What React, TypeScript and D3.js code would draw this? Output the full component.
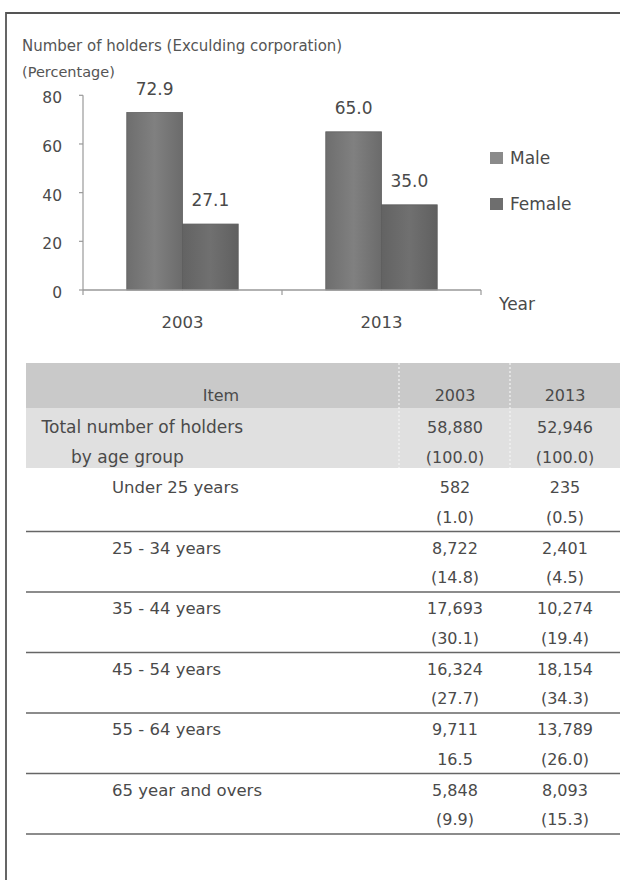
import React from "react";
import * as d3 from "d3";

const years = ["2003", "2013"];
const series = ["Male", "Female"];
const maleValues = [72.9, 65.0];
const femaleValues = [27.1, 35.0];
const yTicks = [0, 20, 40, 60, 80];

const tableHeader = ["Item", "2003", "2013"];
const totalLabel = ["Total number of holders", "by age group"];
const total2003 = ["58,880", "(100.0)"];
const total2013 = ["52,946", "(100.0)"];
const ageGroups = [
  "Under 25 years",
  "25 - 34 years",
  "35 - 44 years",
  "45 - 54 years",
  "55 - 64 years",
  "65 year and overs",
];
const count2003 = ["582", "8,722", "17,693", "16,324", "9,711", "5,848"];
const pct2003 = ["(1.0)", "(14.8)", "(30.1)", "(27.7)", "16.5", "(9.9)"];
const count2013 = ["235", "2,401", "10,274", "18,154", "13,789", "8,093"];
const pct2013 = ["(0.5)", "(4.5)", "(19.4)", "(34.3)", "(26.0)", "(15.3)"];

const FONT = "'DejaVu Sans', Verdana, sans-serif";
const TEXT = "#4a4a4a";

export default function App() {
  const W = 620;
  const H = 880;
  const x0 = d3
    .scaleBand<string>()
    .domain(years)
    .range([83, 481])
    .paddingInner(0.44)
    .paddingOuter(0.22);
  const x1 = d3.scaleBand<string>().domain(series).range([0, x0.bandwidth()]);
  const y = d3.scaleLinear().domain([0, 80]).range([290, 95.3]);
  const values: Record<string, number[]> = { Male: maleValues, Female: femaleValues };
  const fills: Record<string, string> = { Male: "url(#gMale)", Female: "url(#gFemale)" };
  const legendFill: Record<string, string> = { Male: "#8a8a8a", Female: "#6e6e6e" };

  const rowY = d3.scaleLinear().domain([0, 1]).range([471, 531.5]);
  const col2003 = 455;
  const col2013 = 565;

  return (
    <svg
      width={W}
      height={H}
      style={{ position: "absolute", left: 0, top: 0, background: "#fff" }}
      fontFamily={FONT}
    >
      <defs>
        <linearGradient id="gMale" x1="0" x2="1" y1="0" y2="0">
          <stop offset="0" stopColor="#6e6e6e" />
          <stop offset="0.5" stopColor="#808080" />
          <stop offset="1" stopColor="#6b6b6b" />
        </linearGradient>
        <linearGradient id="gFemale" x1="0" x2="1" y1="0" y2="0">
          <stop offset="0" stopColor="#636363" />
          <stop offset="0.5" stopColor="#707070" />
          <stop offset="1" stopColor="#606060" />
        </linearGradient>
      </defs>
      <rect x={0} y={0} width={W} height={H} fill="#fff" />
      {/* frame */}
      <path d={`M6,${H} V13 H${W}`} fill="none" stroke="#555" strokeWidth={1.8} />

      {/* titles */}
      <text x={22} y={51} fontSize={15} fill="#555">
        Number of holders (Exculding corporation)
      </text>
      <text x={22} y={77} fontSize={14.5} fill="#555">
        (Percentage)
      </text>

      {/* y axis */}
      <line x1={83} x2={83} y1={y(80)} y2={y(0)} stroke="#999" strokeWidth={1.2} />
      {yTicks.map((t) => (
        <g key={t}>
          <line x1={79} x2={83} y1={y(t)} y2={y(t)} stroke="#999" strokeWidth={1.2} />
          <text
            x={62}
            y={y(t) + 8}
            textAnchor="end"
            fontSize={15.5}
            fill={TEXT}
          >
            {t}
          </text>
        </g>
      ))}

      {/* bars */}
      {years.map((yr, i) => (
        <g key={yr} transform={`translate(${x0(yr)},0)`}>
          {series.map((s) => {
            const v = values[s][i];
            return (
              <g key={s}>
                <rect
                  x={x1(s)}
                  y={y(v)}
                  width={x1.bandwidth()}
                  height={y(0) - y(v)}
                  fill={fills[s]}
                  stroke="#5e5e5e"
                  strokeWidth={0.8}
                />
                <text
                  x={(x1(s) as number) + x1.bandwidth() / 2}
                  y={y(v) - 18}
                  textAnchor="middle"
                  fontSize={17}
                  fill={TEXT}
                >
                  {v.toFixed(1)}
                </text>
              </g>
            );
          })}
        </g>
      ))}

      {/* x axis */}
      <line x1={83} x2={481} y1={y(0)} y2={y(0)} stroke="#999" strokeWidth={1.4} />
      {[83, (x0("2003") as number) + x0.bandwidth() + (x0.step() - x0.bandwidth()) / 2, 481].map(
        (xx, i) => (
          <line key={i} x1={xx} x2={xx} y1={y(0)} y2={y(0) + 5} stroke="#999" strokeWidth={1.2} />
        )
      )}
      {years.map((yr) => (
        <text
          key={yr}
          x={(x0(yr) as number) + x0.bandwidth() / 2}
          y={328}
          textAnchor="middle"
          fontSize={16.5}
          fill={TEXT}
        >
          {yr}
        </text>
      ))}
      <text x={499} y={310} fontSize={17} fill={TEXT}>
        Year
      </text>

      {/* legend */}
      {series.map((s, i) => (
        <g key={s} transform={`translate(490,${152 + i * 46})`}>
          <rect x={0} y={0} width={13} height={12} fill={legendFill[s]} />
          <text x={20} y={12} fontSize={17} fill={TEXT}>
            {s}
          </text>
        </g>
      ))}

      {/* table */}
      <rect x={26} y={363} width={W - 26} height={45} fill="#c9c9c9" />
      <rect x={26} y={408} width={W - 26} height={60} fill="#e0e0e0" />
      {[399, 510].map((xx) => (
        <line
          key={xx}
          x1={xx}
          x2={xx}
          y1={363}
          y2={468}
          stroke="#f4f4f4"
          strokeWidth={1.2}
          strokeDasharray="2,2"
        />
      ))}
      <text x={221} y={401} textAnchor="middle" fontSize={16} fill={TEXT}>
        {tableHeader[0]}
      </text>
      <text x={col2003} y={401} textAnchor="middle" fontSize={16} fill={TEXT}>
        {tableHeader[1]}
      </text>
      <text x={col2013} y={401} textAnchor="middle" fontSize={16} fill={TEXT}>
        {tableHeader[2]}
      </text>

      {totalLabel.map((t, k) => (
        <text key={t} x={k === 0 ? 41.5 : 71} y={433 + k * 30} fontSize={17} fill={TEXT}>
          {t}
        </text>
      ))}
      {total2003.map((t, k) => (
        <text key={"a" + k} x={col2003} y={433 + k * 30} textAnchor="middle" fontSize={16} fill={TEXT}>
          {t}
        </text>
      ))}
      {total2013.map((t, k) => (
        <text key={"b" + k} x={col2013} y={433 + k * 30} textAnchor="middle" fontSize={16} fill={TEXT}>
          {t}
        </text>
      ))}

      {ageGroups.map((g, i) => {
        const top = rowY(i);
        const bottom = rowY(i + 1);
        return (
          <g key={g}>
            <text x={112} y={top + 22} fontSize={16.5} fill={TEXT}>
              {g}
            </text>
            <text x={col2003} y={top + 22} textAnchor="middle" fontSize={16} fill={TEXT}>
              {count2003[i]}
            </text>
            <text x={col2003} y={top + 51.5} textAnchor="middle" fontSize={16} fill={TEXT}>
              {pct2003[i]}
            </text>
            <text x={col2013} y={top + 22} textAnchor="middle" fontSize={16} fill={TEXT}>
              {count2013[i]}
            </text>
            <text x={col2013} y={top + 51.5} textAnchor="middle" fontSize={16} fill={TEXT}>
              {pct2013[i]}
            </text>
            <line x1={26} x2={W} y1={bottom} y2={bottom} stroke="#666" strokeWidth={1.6} />
          </g>
        );
      })}
    </svg>
  );
}
